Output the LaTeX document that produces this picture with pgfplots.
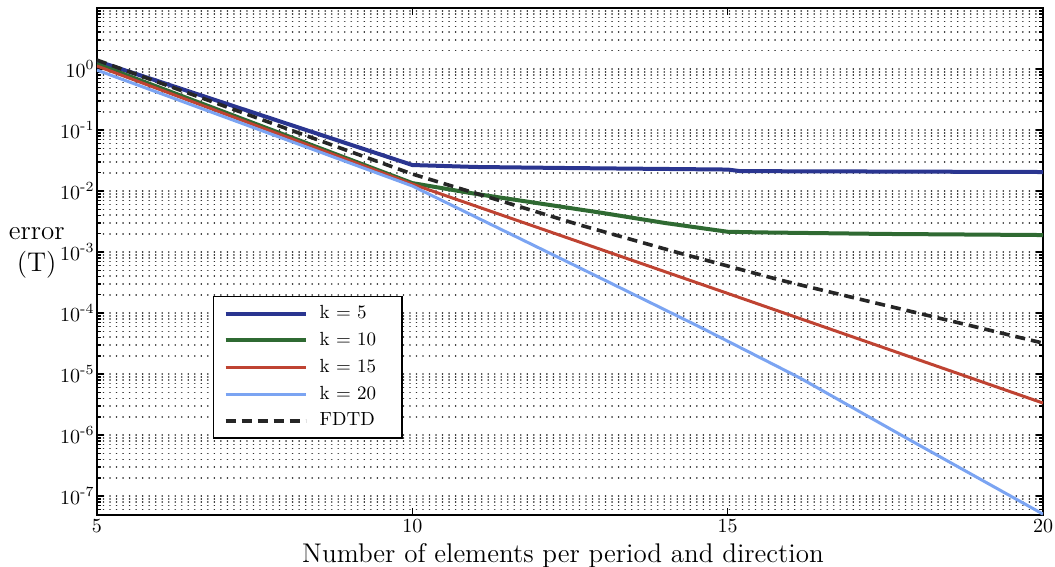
\documentclass[border=0pt]{standalone}
\usepackage{amsmath}
\usepackage{pgfplots}
\pgfplotsset{compat=1.18}
\definecolor{cKfive}{HTML}{2A3590}
\definecolor{cKten}{HTML}{2F6A32}
\definecolor{cKfifteen}{HTML}{BF4332}
\definecolor{cKtwenty}{HTML}{7BA4F2}
\definecolor{cFDTD}{HTML}{262626}
\begin{document}
\begin{tikzpicture}
\path[use as bounding box] (-48.5pt,-26pt) rectangle (479pt,257.5pt);
\begin{axis}[
  scale only axis, width=473pt, height=253.5pt,
  at={(0pt,0pt)}, anchor=south west,
  xmin=5, xmax=20,
  ymode=log, ymin=4.9e-8, ymax=10,
  xtick={5,10,15,20},
  ytick={1e-7,1e-6,1e-5,1e-4,1e-3,1e-2,1e-1,1},
  yticklabels={$10^{\text{-}7}$,$10^{\text{-}6}$,$10^{\text{-}5}$,$10^{\text{-}4}$,$10^{\text{-}3}$,$10^{\text{-}2}$,$10^{\text{-}1}$,$10^{0}$},
  minor ytick={5e-8,6e-8,7e-8,8e-8,9e-8,
    2e-7,3e-7,4e-7,5e-7,6e-7,7e-7,8e-7,9e-7,
    2e-6,3e-6,4e-6,5e-6,6e-6,7e-6,8e-6,9e-6,
    2e-5,3e-5,4e-5,5e-5,6e-5,7e-5,8e-5,9e-5,
    2e-4,3e-4,4e-4,5e-4,6e-4,7e-4,8e-4,9e-4,
    2e-3,3e-3,4e-3,5e-3,6e-3,7e-3,8e-3,9e-3,
    2e-2,3e-2,4e-2,5e-2,6e-2,7e-2,8e-2,9e-2,
    2e-1,3e-1,4e-1,5e-1,6e-1,7e-1,8e-1,9e-1,
    2,3,4,5,6,7,8,9},
  ymajorgrids, yminorgrids,
  grid style={black!80, line width=0.85pt, line cap=round, dash pattern=on 0.01pt off 3.25pt},
  tick align=inside,
  major tick length=3.5pt, minor tick length=2pt,
  every tick/.style={black, line width=0.8pt},
  axis line style={line width=1pt},
  tick label style={font=\fontsize{10}{12}\selectfont},
  yticklabel style={inner xsep=1pt},
  xticklabel style={inner ysep=2pt},
  xlabel={Number of elements per period and direction},
  xlabel style={font=\fontsize{13.5}{15}\selectfont, at={(rel axis cs:0.5,0)}, anchor=north, inner sep=0pt, yshift=-14pt, xshift=-3.5pt},
  ylabel={error\\(T)},
  ylabel style={rotate=-90, font=\fontsize{13.5}{16}\selectfont, align=center, at={(rel axis cs:0,0.517)}, anchor=east, inner sep=0pt, xshift=-16pt},
  legend style={at={(rel axis cs:0.1226,0.432)}, anchor=north west, draw=black, line width=0.7pt,
    font=\fontsize{9.5}{10}\selectfont, inner xsep=5pt, inner ysep=3.5pt, row sep=3.4pt, column sep=5pt,
    cells={anchor=west}, nodes={inner sep=1pt, text height=6.5pt, text depth=1.5pt}},
  legend image code/.code={\draw[#1] (0pt,0pt) -- (40pt,0pt);},
]
\addplot[cKfive, line width=2pt, line join=round] coordinates {
  (5,1.35) (10,0.0267) (11,0.0248) (12.5,0.0238) (15,0.0225) (15.2,0.0212) (20,0.0205)};
\addlegendentry{k = 5}
\addplot[cKten, line width=2pt, line join=round] coordinates {
  (5,1.21) (10,0.0135) (11,0.0090) (12,0.0063) (13,0.0044) (14,0.0030) (15,0.00215) (15.5,0.0021) (17.5,0.00198) (20,0.0019)};
\addlegendentry{k = 10}
\addplot[cKfifteen, line width=1.5pt, line join=round] coordinates {
  (5,1.12) (10,0.0130) (15,2.1e-4) (20,3.35e-6)};
\addlegendentry{k = 15}
\addplot[cKtwenty, line width=1.5pt, line join=round] coordinates {
  (5,0.96) (10,0.0121) (12.66,5.47e-4) (14.56,5.9e-5) (16.15,8.6e-6) (17.89,8.3e-7) (20,5.07e-8)};
\addlegendentry{k = 20\hspace*{7pt}}
\addplot[cFDTD, line width=1.8pt, dash pattern=on 5pt off 3pt] coordinates {
  (5,1.4) (10,0.0190) (11.33,0.00726) (12.66,0.00277) (14.24,9.6e-4) (15.83,3.48e-4) (17.41,1.41e-4) (18.68,6.86e-5) (20,3.22e-5)};
\addlegendentry{FDTD}
\end{axis}
\end{tikzpicture}
\end{document}
